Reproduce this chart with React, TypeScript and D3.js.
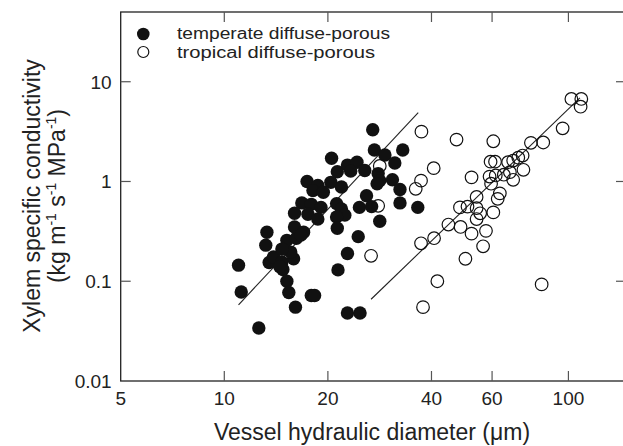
import * as d3 from "d3";

// vessel hydraulic diameter (µm), xylem specific conductivity
const temperate: [number, number][] = [
  [11.0, 0.145], [11.2, 0.078], [12.6, 0.034], [13.3, 0.31], [13.2, 0.23], [13.5, 0.154],
  [13.9, 0.175], [14.7, 0.156], [14.8, 0.131], [15.2, 0.1], [15.4, 0.077], [16.1, 0.055],
  [15.9, 0.168], [15.2, 0.257], [15.6, 0.196], [16.2, 0.27], [14.7, 0.21], [17.9, 0.072],
  [14.5, 0.14], [27.0, 3.3], [27.3, 2.07], [29.3, 1.84], [33.0, 2.07], [31.3, 1.53],
  [20.5, 1.71], [21.3, 1.25], [22.8, 1.46], [24.3, 1.56], [25.6, 1.29], [23.3, 1.27],
  [28.0, 1.2], [28.3, 1.02], [27.8, 0.95], [30.8, 1.04], [32.4, 0.83], [32.4, 0.61],
  [36.5, 0.55], [17.4, 1.0], [18.7, 0.91], [18.1, 0.81], [20.4, 0.98], [21.9, 0.88],
  [19.4, 0.78], [16.8, 0.61], [17.9, 0.59], [19.1, 0.55], [16.0, 0.48], [17.5, 0.47],
  [18.7, 0.42], [16.0, 0.35], [17.0, 0.31], [16.7, 0.29], [21.2, 0.6], [21.9, 0.53],
  [22.4, 0.46], [21.2, 0.44], [21.3, 0.34], [24.7, 0.55], [25.9, 0.72], [26.8, 0.56],
  [28.3, 0.4], [24.5, 0.28], [22.8, 0.19], [21.4, 0.13], [18.3, 0.072], [22.8, 0.048],
  [24.8, 0.048],
];

const tropical: [number, number][] = [
  [28.3, 1.43], [28.0, 0.57], [26.7, 0.18], [37.4, 3.16], [47.3, 2.63], [60.5, 2.53],
  [40.6, 1.36], [37.3, 1.02], [36.0, 0.845], [52.3, 1.1], [59.4, 1.58], [61.2, 1.58],
  [59.0, 1.12], [61.5, 1.15], [59.6, 0.95], [54.1, 0.7], [48.4, 0.55], [50.9, 0.56],
  [54.1, 0.54], [55.4, 0.48], [54.1, 0.42], [60.5, 0.49], [44.8, 0.37], [48.6, 0.35],
  [52.3, 0.3], [57.6, 0.32], [56.5, 0.224], [50.2, 0.168], [37.3, 0.24], [40.7, 0.27],
  [41.6, 0.1], [37.8, 0.055], [102, 6.72], [109, 6.72], [108.5, 5.62], [96.2, 3.41],
  [84.5, 2.46], [77.8, 2.44], [73.6, 1.82], [71.5, 1.73], [69.1, 1.62], [66.8, 1.56],
  [74.0, 1.31], [69.1, 1.04], [67.6, 1.24], [64.9, 1.17], [63.2, 0.76], [62.3, 0.67],
  [83.6, 0.093],
];

// regression lines (end points)
const temperateFit: [number, number][] = [[11.0, 0.058], [36.6, 4.9]];
const tropicalFit: [number, number][] = [[26.7, 0.066], [108, 6.9]];

const xTicks = [5, 10, 20, 40, 60, 100];
const yTicks = [0.01, 0.1, 1, 10];
const xTickLabels = ["5", "10", "20", "40", "60", "100"];
const yTickLabels = ["0.01", "0.1", "1", "10"];
const legendLabels = ["temperate diffuse-porous", "tropical diffuse-porous"];

const W = 623, H = 446;
const left = 120.7, top = 12, right = 626, bottom = 381;
const font = "'Liberation Sans', Arial, Helvetica, sans-serif";

export default function App() {
  const x = d3.scaleLog().domain([5, 147]).range([left, right]);
  const y = d3.scaleLog().domain([0.01, 50]).range([bottom, top]);
  const line = d3.line<[number, number]>().x(d => x(d[0])).y(d => y(d[1]));
  const tickLen = 10;

  return (
    <svg width={W} height={H} style={{ position: "absolute", left: 0, top: 0, background: "#fff" }}
      fontFamily={font}>
      {/* frame */}
      <rect x={left} y={top} width={right - left} height={bottom - top} fill="none" stroke="#222" strokeWidth={1.3} />

      {/* ticks, inward on all four sides */}
      {xTicks.slice(1).map(t => (
        <g key={"xt" + t} stroke="#555" strokeWidth={1.2}>
          <line x1={x(t)} x2={x(t)} y1={bottom} y2={bottom - tickLen} />
          <line x1={x(t)} x2={x(t)} y1={top} y2={top + tickLen} />
        </g>
      ))}
      {yTicks.slice(1).map(t => (
        <g key={"yt" + t} stroke="#555" strokeWidth={1.2}>
          <line x1={left} x2={left + tickLen} y1={y(t)} y2={y(t)} />
          <line x1={right} x2={right - tickLen} y1={y(t)} y2={y(t)} />
        </g>
      ))}

      {/* tick labels */}
      {xTicks.map((t, i) => (
        <text key={"xl" + t} x={x(t)} y={405} textAnchor="middle" fontSize={19} fill="#222">{xTickLabels[i]}</text>
      ))}
      {yTicks.map((t, i) => (
        <text key={"yl" + t} x={left - 9} y={y(t)} dy="0.36em" textAnchor="end" fontSize={19} fill="#222">{yTickLabels[i]}</text>
      ))}

      {/* axis titles */}
      <text x={372} y={440} textAnchor="middle" fontSize={23} fill="#222">Vessel hydraulic diameter (μm)</text>
      <g transform="translate(40,196) rotate(-90)">
        <text x={0} y={0} textAnchor="middle" fontSize={23} fill="#222">Xylem specific conductivity</text>
        <text x={0} y={25} textAnchor="middle" fontSize={23} fill="#222">
          (kg m<tspan fontSize={14} dy={-9}>-1</tspan><tspan dy={9}> s</tspan>
          <tspan fontSize={14} dy={-9}>-1</tspan><tspan dy={9}> MPa</tspan>
          <tspan fontSize={14} dy={-9}>-1</tspan><tspan dy={9}>)</tspan>
        </text>
      </g>

      {/* fit lines */}
      <path d={line(temperateFit) ?? ""} fill="none" stroke="#222" strokeWidth={1.1} />
      <path d={line(tropicalFit) ?? ""} fill="none" stroke="#222" strokeWidth={1.1} />

      {/* points */}
      {temperate.map((d, i) => (
        <circle key={"t" + i} cx={x(d[0])} cy={y(d[1])} r={6.7} fill="#111" />
      ))}
      {tropical.map((d, i) => (
        <circle key={"p" + i} cx={x(d[0])} cy={y(d[1])} r={6.3} fill="none" stroke="#111" strokeWidth={1.2} />
      ))}

      {/* legend */}
      <circle cx={143.3} cy={34} r={6.3} fill="#111" />
      <circle cx={143.3} cy={52} r={5.5} fill="none" stroke="#111" strokeWidth={1.2} />
      <text x={177} y={33.7} dy="0.36em" fontSize={16} textLength={213} lengthAdjust="spacingAndGlyphs" fill="#222">{legendLabels[0]}</text>
      <text x={177} y={52.3} dy="0.36em" fontSize={16} textLength={198} lengthAdjust="spacingAndGlyphs" fill="#222">{legendLabels[1]}</text>
    </svg>
  );
}
